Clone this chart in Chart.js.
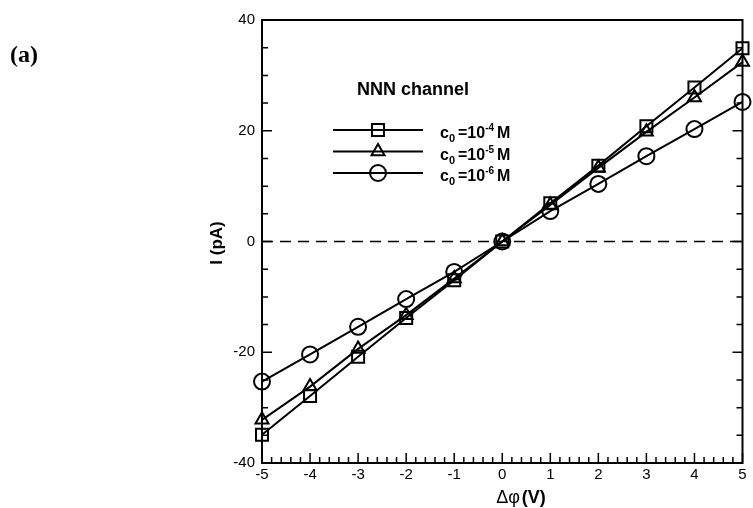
<!DOCTYPE html>
<html>
<head>
<meta charset="utf-8">
<script src="https://cdn.jsdelivr.net/npm/chart.js@4.4.0/dist/chart.umd.min.js"></script>
<style>
    html, body { margin: 0; padding: 0; background: #ffffff; }
    #wrap { width: 753px; height: 508px; position: relative; }
</style>
</head>
<body>
<div id="wrap"><canvas id="ivChart" width="753" height="508"></canvas></div>
<script>
// Voltage steps (V)
const voltages = [-5, -4, -3, -2, -1, 0, 1, 2, 3, 4, 5];

// Current (pA) for each bulk concentration
const currentC4 = [-34.9, -27.9, -20.8, -13.8, -7.0, 0, 6.9, 13.7, 20.8, 27.8, 34.9];
const currentC5 = [-32.2, -26.2, -19.4, -13.3, -6.7, 0, 6.6, 13.3, 19.8, 26.0, 32.4];
const currentC6 = [-25.3, -20.4, -15.4, -10.4, -5.5, 0, 5.5, 10.4, 15.4, 20.3, 25.2];

// Axis ticks
const xTicks = [-5, -4, -3, -2, -1, 0, 1, 2, 3, 4, 5];
const yTicks = [-40, -20, 0, 20, 40];

// Legend entries: [exponent, marker]
const legendExp = ['-4', '-5', '-6'];
const legendMarkers = ['rect', 'triangle', 'circle'];
const markerRadius = { rect: 8.5, triangle: 7.5, circle: 8 };

const FONT = '"Liberation Sans", Arial, sans-serif';

function toPoints(values) {
    return voltages.map((v, i) => ({ x: v, y: values[i] }));
}

function makeSet(label, values, marker) {
    return {
        label: label,
        data: toPoints(values),
        borderColor: '#000',
        borderWidth: 2,
        backgroundColor: 'rgba(0,0,0,0)',
        pointStyle: marker,
        pointRadius: markerRadius[marker],
        pointHoverRadius: markerRadius[marker],
        pointBorderWidth: 2,
        pointBorderColor: '#000',
        pointBackgroundColor: 'rgba(0,0,0,0)',
        tension: 0,
        clip: false
    };
}

// Frame, inward ticks and dashed zero line
const framePlugin = {
    id: 'frame',
    beforeDatasetsDraw(chart) {
        const { ctx, chartArea: a, scales: { x, y } } = chart;
        ctx.save();
        ctx.strokeStyle = '#000';

        // dashed zero line
        ctx.lineWidth = 1.5;
        ctx.setLineDash([11, 7]);
        const y0 = y.getPixelForValue(0);
        ctx.beginPath();
        ctx.moveTo(a.left, y0);
        ctx.lineTo(a.right, y0);
        ctx.stroke();
        ctx.setLineDash([]);

        // minor / major ticks on bottom axis
        ctx.lineWidth = 1.5;
        ctx.beginPath();
        for (let k = -25; k <= 25; k++) {
            const px = x.getPixelForValue(k / 5);
            const len = k % 5 === 0 ? 10 : 6;
            ctx.moveTo(px, a.bottom);
            ctx.lineTo(px, a.bottom - len);
        }
        // left and right axes, every 5 pA
        for (let v = -40; v <= 40; v += 5) {
            const py = y.getPixelForValue(v);
            const len = v % 20 === 0 ? 10 : 6;
            ctx.moveTo(a.left, py);
            ctx.lineTo(a.left + len, py);
            ctx.moveTo(a.right, py);
            ctx.lineTo(a.right - len, py);
        }
        ctx.stroke();

        // box
        ctx.lineWidth = 2;
        ctx.strokeRect(a.left, a.top, a.right - a.left, a.bottom - a.top);
        ctx.restore();
    }
};

// Titles, panel label and legend block
const textPlugin = {
    id: 'texts',
    afterDraw(chart) {
        const { ctx } = chart;
        ctx.save();
        ctx.fillStyle = '#000';
        ctx.strokeStyle = '#000';

        // panel label
        ctx.font = 'bold 24px "Liberation Serif", "Times New Roman", serif';
        ctx.textAlign = 'left';
        ctx.textBaseline = 'alphabetic';
        ctx.fillText('(a)', 10, 62);

        // y title
        ctx.save();
        ctx.translate(217, 243);
        ctx.rotate(-Math.PI / 2);
        ctx.font = 'bold 17px ' + FONT;
        ctx.textAlign = 'center';
        ctx.textBaseline = 'middle';
        ctx.fillText('I (pA)', 0, 0);
        ctx.restore();

        // x title: regular greek + bold unit
        ctx.textBaseline = 'alphabetic';
        ctx.font = '18px ' + FONT;
        const w1 = ctx.measureText('\u0394\u03C6').width;
        ctx.font = 'bold 18px ' + FONT;
        const w2 = ctx.measureText('(V)').width;
        const tx = 521 - (w1 + w2 + 2) / 2;
        ctx.font = '18px ' + FONT;
        ctx.fillText('\u0394\u03C6', tx, 503);
        ctx.font = 'bold 18px ' + FONT;
        ctx.fillText('(V)', tx + w1 + 2, 503);

        // legend header
        ctx.font = 'bold 18px ' + FONT;
        ctx.fillText('NNN channel', 357, 95);

        // legend rows
        const rowY = [130, 151.5, 173];
        legendMarkers.forEach((m, i) => {
            const ry = rowY[i];
            ctx.lineWidth = 2;
            ctx.beginPath();
            ctx.moveTo(333, ry);
            ctx.lineTo(423, ry);
            ctx.stroke();
            ctx.fillStyle = 'rgba(0,0,0,0)';
            Chart.helpers.drawPoint(ctx, {
                pointStyle: m,
                radius: markerRadius[m],
                borderWidth: 2,
                rotation: 0
            }, 378, ry);
            ctx.fillStyle = '#000';

            let lx = 440;
            const base = ry + 8;
            ctx.font = 'bold 16px ' + FONT;
            ctx.fillText('c', lx, base);
            lx += ctx.measureText('c').width;
            ctx.font = 'bold 11px ' + FONT;
            ctx.fillText('0', lx, base + 4);
            lx += ctx.measureText('0').width + 3;
            ctx.font = 'bold 16px ' + FONT;
            ctx.fillText('=10', lx, base);
            lx += ctx.measureText('=10').width;
            ctx.font = 'bold 10px ' + FONT;
            ctx.fillText(legendExp[i], lx, base - 7);
            lx += ctx.measureText(legendExp[i]).width + 3;
            ctx.font = 'bold 16px ' + FONT;
            ctx.fillText('M', lx, base);
        });
        ctx.restore();
    }
};

const ivChart = new Chart(document.getElementById('ivChart'), {
    type: 'line',
    data: {
        datasets: [
            makeSet('c0=10-4 M', currentC4, 'rect'),
            makeSet('c0=10-5 M', currentC5, 'triangle'),
            makeSet('c0=10-6 M', currentC6, 'circle')
        ]
    },
    options: {
        responsive: false,
        animation: false,
        events: [],
        layout: { padding: { top: 20, right: 5, left: 0, bottom: 0 } },
        scales: {
            x: {
                type: 'linear',
                min: -5,
                max: 5,
                afterBuildTicks: scale => {
                    scale.ticks = xTicks.map(v => ({ value: v }));
                },
                afterFit: scale => { scale.height = 45; },
                grid: { display: false, drawTicks: false },
                border: { display: false },
                ticks: {
                    color: '#000',
                    font: { family: FONT, size: 15 },
                    padding: 3,
                    maxRotation: 0,
                    autoSkip: false
                }
            },
            y: {
                type: 'linear',
                min: -40,
                max: 40,
                afterBuildTicks: scale => {
                    scale.ticks = yTicks.map(v => ({ value: v }));
                },
                afterFit: scale => { scale.width = 262; },
                grid: { display: false, drawTicks: false },
                border: { display: false },
                ticks: {
                    color: '#000',
                    font: { family: FONT, size: 15 },
                    padding: 7
                }
            }
        },
        plugins: {
            legend: { display: false },
            tooltip: { enabled: false }
        }
    },
    plugins: [framePlugin, textPlugin]
});
</script>
</body>
</html>
